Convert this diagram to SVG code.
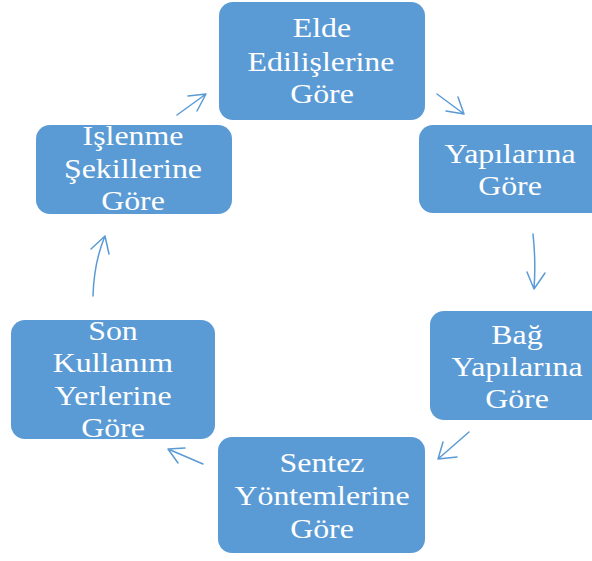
<svg xmlns="http://www.w3.org/2000/svg" width="592" height="561" viewBox="0 0 592 561">
<style>
.box{fill:#5b9bd5;}
.t{font-family:"Liberation Serif","Times New Roman",serif;font-size:27px;fill:#ffffff;text-anchor:middle;}
.c{fill:none;stroke:#5b9bd5;stroke-width:1.5;stroke-linecap:round;stroke-linejoin:round;}
</style>
<rect width="592" height="561" fill="#ffffff"/>
<g id="connectors">
<path class="c" d="M177,115 L206,94 M188,96 L206,94 L197,111"/>
<path class="c" d="M437,94 L464,114 M446,111 L464,114 L458,97"/>
<path class="c" d="M533,234 Q536,262 534,289 M527,272 L534,289 L545,273"/>
<path class="c" d="M469,432 L438,459 M443,442 L438,459 L457,457"/>
<path class="c" d="M203,464 L168,449 M185,448 L168,449 L178,463"/>
<path class="c" d="M93,296 Q94,262 105,236 M91,249 L105,236 L109,254"/>
</g>
<g id="n1"><rect class="box" x="219" y="2" width="206" height="118" rx="14"/>
<text class="t" transform="translate(322,37) scale(1.18,1)">Elde</text>
<text class="t" transform="translate(321,70.5) scale(1.18,1)">Edilişlerine</text>
<text class="t" transform="translate(322,103) scale(1.18,1)">Göre</text></g>
<g id="n2"><rect class="box" x="419" y="125" width="186" height="88" rx="14"/>
<text class="t" transform="translate(510,163) scale(1.18,1)">Yapılarına</text>
<text class="t" transform="translate(510,195) scale(1.18,1)">Göre</text></g>
<g id="n3"><rect class="box" x="430" y="311" width="176" height="109" rx="14"/>
<text class="t" transform="translate(517,343.5) scale(1.18,1)">Bağ</text>
<text class="t" transform="translate(517,375.5) scale(1.18,1)">Yapılarına</text>
<text class="t" transform="translate(517,407.5) scale(1.18,1)">Göre</text></g>
<g id="n4"><rect class="box" x="218" y="437" width="207" height="116" rx="14"/>
<text class="t" transform="translate(322,472) scale(1.18,1)">Sentez</text>
<text class="t" transform="translate(322,505) scale(1.18,1)">Yöntemlerine</text>
<text class="t" transform="translate(322,538) scale(1.18,1)">Göre</text></g>
<g id="n5"><rect class="box" x="11" y="320" width="204" height="119" rx="14"/>
<text class="t" transform="translate(113,340) scale(1.18,1)">Son</text>
<text class="t" transform="translate(113,372) scale(1.18,1)">Kullanım</text>
<text class="t" transform="translate(113,405) scale(1.18,1)">Yerlerine</text>
<text class="t" transform="translate(113,437) scale(1.18,1)">Göre</text></g>
<g id="n6"><rect class="box" x="36" y="125" width="196" height="89" rx="14"/>
<text class="t" transform="translate(133,145) scale(1.18,1)">İşlenme</text>
<text class="t" transform="translate(133,178) scale(1.18,1)">Şekillerine</text>
<text class="t" transform="translate(133,210) scale(1.18,1)">Göre</text></g>
</svg>
